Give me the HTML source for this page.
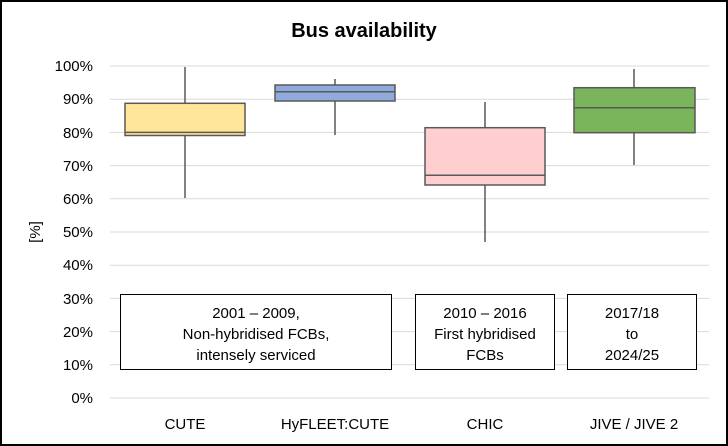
<!DOCTYPE html>
<html><head><style>
body{margin:0;background:#fff;}
svg{display:block;font-family:"Liberation Sans",sans-serif;}
</style></head><body>
<svg width="728" height="446" viewBox="0 0 728 446">
<rect x="1" y="1" width="726" height="444" fill="#fff" stroke="#000" stroke-width="2"/>
<text x="364" y="37" font-size="20" font-weight="bold" text-anchor="middle">Bus availability</text>
<g stroke="#d9d9d9" stroke-width="1">
<line x1="110" y1="66" x2="709" y2="66"/><line x1="110" y1="99.2" x2="709" y2="99.2"/>
<line x1="110" y1="132.4" x2="709" y2="132.4"/><line x1="110" y1="165.6" x2="709" y2="165.6"/>
<line x1="110" y1="198.8" x2="709" y2="198.8"/><line x1="110" y1="232" x2="709" y2="232"/>
<line x1="110" y1="265.2" x2="709" y2="265.2"/><line x1="110" y1="298.4" x2="709" y2="298.4"/>
<line x1="110" y1="331.6" x2="709" y2="331.6"/><line x1="110" y1="364.8" x2="709" y2="364.8"/>
<line x1="110" y1="398" x2="709" y2="398"/>
</g>
<g font-size="15" fill="#000" text-anchor="end">
<text x="93" y="71">100%</text><text x="93" y="104">90%</text><text x="93" y="138">80%</text>
<text x="93" y="171">70%</text><text x="93" y="204">60%</text><text x="93" y="237">50%</text>
<text x="93" y="270">40%</text><text x="93" y="304">30%</text><text x="93" y="337">20%</text>
<text x="93" y="370">10%</text><text x="93" y="403">0%</text>
</g>
<text transform="translate(40,232) rotate(-90)" font-size="15" text-anchor="middle">[%]</text>
<g stroke="#595959" stroke-width="1.5">
<line x1="185" y1="67" x2="185" y2="198"/>
<rect x="125" y="103.3" width="120" height="32.2" fill="#ffe699"/>
<line x1="125" y1="132.4" x2="245" y2="132.4"/>
<line x1="335" y1="79" x2="335" y2="135"/>
<rect x="275" y="85" width="120" height="16" fill="#8faadc"/>
<line x1="275" y1="91.7" x2="395" y2="91.7"/>
<line x1="485" y1="102" x2="485" y2="242"/>
<rect x="425" y="127.7" width="120" height="57.3" fill="#ffcfcf"/>
<line x1="425" y1="175.3" x2="545" y2="175.3"/>
<line x1="634" y1="69" x2="634" y2="165"/>
<rect x="574" y="87.7" width="121" height="45" fill="#7ab55c"/>
<line x1="574" y1="107.7" x2="695" y2="107.7"/>
</g>
<g stroke="#000" stroke-width="1" fill="#fff">
<rect x="120.5" y="294.5" width="271" height="75"/>
<rect x="415.5" y="294.5" width="139" height="75"/>
<rect x="567.5" y="294.5" width="129" height="75"/>
</g>
<g font-size="15" text-anchor="middle">
<text x="256" y="318">2001 – 2009,</text>
<text x="256" y="339">Non-hybridised FCBs,</text>
<text x="256" y="360">intensely serviced</text>
<text x="485" y="318">2010 – 2016</text>
<text x="485" y="339">First hybridised</text>
<text x="485" y="360">FCBs</text>
<text x="632" y="318">2017/18</text>
<text x="632" y="339">to</text>
<text x="632" y="360">2024/25</text>
<text x="185" y="429">CUTE</text>
<text x="335" y="429">HyFLEET:CUTE</text>
<text x="485" y="429">CHIC</text>
<text x="634" y="429">JIVE / JIVE 2</text>
</g>
</svg>
</body></html>
